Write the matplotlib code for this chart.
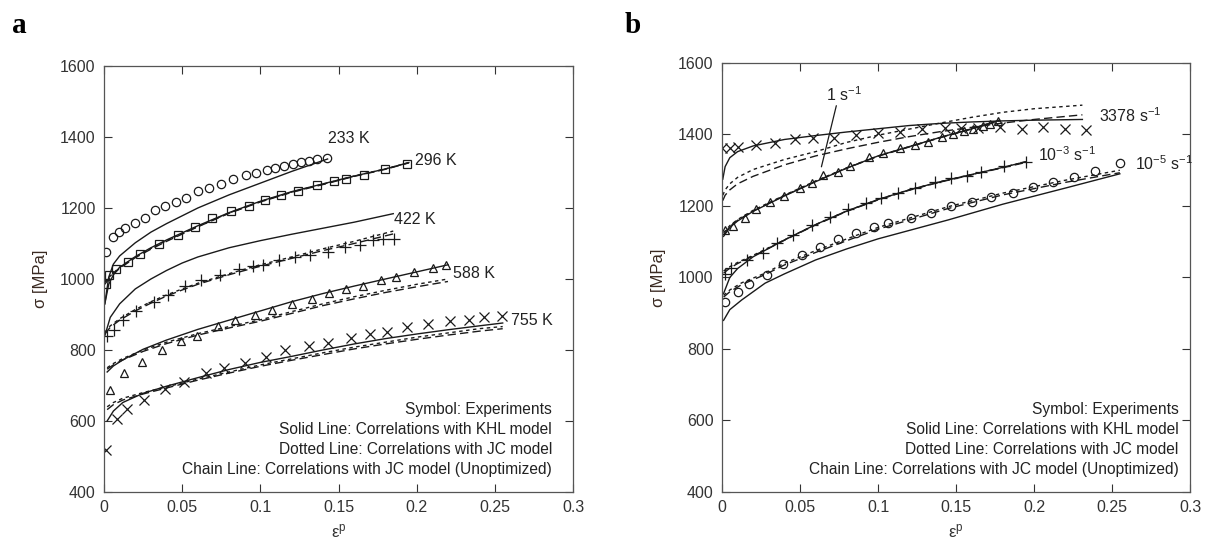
import matplotlib.pyplot as plt
import numpy as np

plt.rcParams['font.family'] = ['Liberation Sans', 'DejaVu Sans']
plt.rcParams['mathtext.default'] = 'regular'

# ---- (a) temperature series : experiments + model fits ----
exp233_e = [0.001, 0.006, 0.0095, 0.0137, 0.0199, 0.0264, 0.0328, 0.0393, 0.0458, 0.0527, 0.0602, 0.0674,
            0.0746, 0.0828, 0.0908, 0.0973, 0.104, 0.1095, 0.115, 0.121, 0.126, 0.131, 0.136, 0.1425]
exp233_s = [1077, 1119, 1131, 1145, 1159, 1173, 1193, 1205, 1216, 1229, 1249, 1257,
            1268, 1283, 1292, 1299, 1306, 1313, 1319, 1324, 1329, 1333, 1339, 1341]
mod233_e = [0.0005, 0.003, 0.006, 0.01, 0.02, 0.03, 0.04, 0.06, 0.08, 0.1, 0.12, 0.143]
khl233 = [930, 1005, 1042, 1065, 1102, 1132, 1156, 1200, 1237, 1270, 1303, 1338]

exp296_e = [0.0015, 0.003, 0.0075, 0.0154, 0.023, 0.035, 0.047, 0.058, 0.069, 0.081, 0.0925, 0.103,
            0.113, 0.124, 0.136, 0.147, 0.155, 0.166, 0.18, 0.194]
exp296_s = [986, 1012, 1028, 1049, 1070, 1098, 1124, 1147, 1173, 1191, 1207, 1223,
            1236, 1249, 1264, 1275, 1283, 1294, 1311, 1324]
mod296_e = [0.0005, 0.003, 0.006, 0.01, 0.02, 0.03, 0.04, 0.06, 0.08, 0.1, 0.12, 0.14, 0.16, 0.18, 0.195]
khl296 = [930, 985, 1012, 1033, 1063, 1088, 1110, 1150, 1187, 1219, 1246, 1268, 1290, 1310, 1328]
jc296 = [990, 1004, 1017, 1033, 1062, 1086, 1108, 1148, 1186, 1218, 1245, 1267, 1290, 1310, 1328]
jcu296 = [985, 1000, 1014, 1030, 1060, 1084, 1106, 1147, 1185, 1217, 1244, 1266, 1289, 1309, 1327]

exp422_e = [0.002, 0.0065, 0.012, 0.0206, 0.032, 0.041, 0.052, 0.062, 0.074, 0.0866, 0.0955, 0.1015,
            0.112, 0.122, 0.132, 0.143, 0.154, 0.164, 0.172, 0.1786, 0.1856]
exp422_s = [839, 857, 885, 911, 935, 956, 979, 997, 1012, 1028, 1037, 1039,
            1053, 1063, 1068, 1077, 1089, 1096, 1110, 1112, 1114]
mod422_e = [0.0005, 0.004, 0.01, 0.02, 0.03, 0.04, 0.05, 0.06, 0.08, 0.1, 0.12, 0.14, 0.16, 0.185]
khl422 = [840, 892, 930, 972, 1000, 1024, 1045, 1062, 1088, 1108, 1126, 1143, 1160, 1184]
jc422 = [850, 868, 888, 914, 936, 955, 972, 988, 1015, 1040, 1062, 1085, 1106, 1135]
jcu422 = [845, 864, 884, 910, 932, 952, 969, 985, 1012, 1036, 1058, 1080, 1100, 1127]

exp588_e = [0.004, 0.0127, 0.0244, 0.0368, 0.0493, 0.0597, 0.0729, 0.084, 0.0965, 0.1077, 0.12, 0.133,
            0.144, 0.1545, 0.1654, 0.1769, 0.1868, 0.1985, 0.2104, 0.219]
exp588_s = [687, 734, 767, 799, 825, 840, 867, 885, 899, 913, 930, 944,
            960, 972, 981, 997, 1007, 1020, 1031, 1039]
mod588_e = [0.002, 0.006, 0.012, 0.025, 0.04, 0.06, 0.08, 0.1, 0.12, 0.14, 0.16, 0.18, 0.2, 0.22]
khl588 = [738, 755, 772, 802, 828, 858, 884, 910, 936, 959, 980, 1000, 1020, 1040]
jc588 = [750, 762, 776, 800, 822, 846, 866, 885, 908, 930, 950, 968, 985, 1000]
jcu588 = [746, 758, 772, 796, 818, 842, 862, 881, 903, 925, 944, 962, 978, 993]

exp755_e = [0.001, 0.0082, 0.015, 0.0256, 0.0393, 0.0512, 0.065, 0.0766, 0.09, 0.1035, 0.1159, 0.131,
            0.143, 0.158, 0.17, 0.181, 0.194, 0.207, 0.2214, 0.2333, 0.2433, 0.2545]
exp755_s = [519, 605, 633, 659, 689, 711, 734, 750, 764, 781, 799, 811,
            820, 835, 846, 851, 865, 874, 881, 885, 893, 896]
mod755_e = [0.002, 0.006, 0.012, 0.025, 0.04, 0.06, 0.08, 0.1, 0.12, 0.14, 0.16, 0.18, 0.2, 0.22, 0.24, 0.255]
khl755 = [600, 628, 652, 678, 698, 722, 745, 765, 782, 800, 817, 832, 845, 857, 868, 876]
jc755 = [640, 652, 664, 680, 696, 718, 738, 758, 775, 792, 808, 822, 836, 848, 860, 866]
jcu755 = [632, 646, 659, 676, 693, 715, 735, 754, 771, 787, 803, 817, 830, 842, 853, 860]

# ---- (b) strain-rate series ----
exp3378_e = [0.0, 0.005, 0.0105, 0.022, 0.034, 0.047, 0.0585, 0.072, 0.086, 0.1, 0.114, 0.128,
             0.143, 0.153, 0.164, 0.178, 0.192, 0.206, 0.22, 0.233]
exp3378_s = [1361, 1363, 1366, 1371, 1377, 1387, 1389, 1389, 1399, 1403, 1408, 1414,
             1417, 1418, 1417, 1420, 1414, 1420, 1414, 1413]
mod3378_e = [0.0005, 0.002, 0.005, 0.01, 0.02, 0.04, 0.06, 0.08, 0.1, 0.12, 0.14, 0.16, 0.18, 0.2, 0.231]
khl3378 = [1275, 1310, 1335, 1352, 1368, 1386, 1397, 1407, 1416, 1425, 1431, 1435, 1438, 1440, 1442]
jc3378 = [1230, 1245, 1262, 1280, 1302, 1330, 1352, 1378, 1398, 1415, 1432, 1448, 1462, 1472, 1482]
jcu3378 = [1215, 1230, 1245, 1262, 1283, 1315, 1340, 1360, 1378, 1394, 1408, 1420, 1432, 1442, 1455]

exp1_e = [0.002, 0.0072, 0.0147, 0.022, 0.031, 0.04, 0.05, 0.0575, 0.065, 0.0746, 0.082, 0.094,
          0.1034, 0.114, 0.124, 0.132, 0.141, 0.148, 0.155, 0.161, 0.167, 0.172, 0.177]
exp1_s = [1133, 1144, 1166, 1191, 1212, 1228, 1249, 1265, 1287, 1296, 1312, 1336,
          1347, 1361, 1371, 1380, 1394, 1402, 1410, 1416, 1424, 1430, 1437]
mod1_e = [0.001, 0.005, 0.01, 0.02, 0.04, 0.06, 0.08, 0.1, 0.12, 0.14, 0.16, 0.178]
khl1 = [1115, 1140, 1158, 1185, 1228, 1268, 1306, 1340, 1366, 1392, 1416, 1440]
jc1 = [1125, 1145, 1162, 1188, 1230, 1270, 1307, 1340, 1366, 1392, 1416, 1440]
jcu1 = [1120, 1142, 1160, 1186, 1229, 1269, 1306, 1339, 1365, 1391, 1415, 1438]

expm3_e = [0.002, 0.006, 0.0158, 0.0265, 0.035, 0.0457, 0.0575, 0.069, 0.081, 0.092, 0.102, 0.113,
           0.124, 0.1365, 0.147, 0.157, 0.166, 0.181, 0.195]
expm3_s = [1010, 1026, 1049, 1069, 1096, 1119, 1147, 1170, 1191, 1208, 1222, 1237,
           1250, 1268, 1277, 1284, 1296, 1312, 1324]
modm3_e = [0.001, 0.005, 0.01, 0.02, 0.04, 0.06, 0.08, 0.1, 0.12, 0.14, 0.16, 0.18, 0.195]
khlm3 = [955, 1000, 1025, 1058, 1105, 1148, 1186, 1218, 1245, 1268, 1288, 1308, 1324]
jcm3 = [1018, 1030, 1042, 1062, 1105, 1148, 1186, 1218, 1245, 1268, 1288, 1308, 1324]
jcum3 = [1012, 1026, 1039, 1060, 1104, 1147, 1185, 1217, 1244, 1267, 1287, 1307, 1322]

expm5_e = [0.002, 0.01, 0.017, 0.0286, 0.039, 0.051, 0.063, 0.0746, 0.086, 0.0977, 0.1066, 0.121,
           0.134, 0.147, 0.16, 0.1724, 0.1868, 0.1996, 0.212, 0.2256, 0.239, 0.255]
expm5_s = [930, 960, 982, 1007, 1038, 1063, 1086, 1107, 1125, 1140, 1153, 1167,
           1180, 1200, 1210, 1226, 1237, 1252, 1268, 1282, 1299, 1319]
modm5_e = [0.001, 0.005, 0.0126, 0.0276, 0.04, 0.06, 0.08, 0.1, 0.145, 0.18, 0.22, 0.255]
khlm5 = [880, 910, 937, 984, 1010, 1049, 1080, 1108, 1161, 1205, 1250, 1290]
jcm5 = [950, 965, 985, 1012, 1040, 1075, 1108, 1140, 1198, 1236, 1272, 1300]
jcum5 = [945, 960, 980, 1008, 1035, 1070, 1103, 1135, 1193, 1231, 1266, 1293]

legend_lines = ["Symbol: Experiments",
                "Solid Line: Correlations with KHL model",
                "Dotted Line: Correlations with JC model",
                "Chain Line: Correlations with JC model (Unoptimized)"]

INK = '#1a1a1a'
DOT = (0, (2.5, 2.5))
CHAIN = (0, (6, 3))


def expts(ax, e, s, m, ms=6):
    ax.plot(e, s, linestyle='none', marker=m, ms=ms, mfc='none', mec=INK, mew=0.9)


def fits(ax, e, khl=None, jc=None, jcu=None):
    if khl is not None:
        ax.plot(e, khl, color=INK, lw=1.0)
    if jc is not None:
        ax.plot(e, jc, color=INK, lw=1.0, ls=DOT)
    if jcu is not None:
        ax.plot(e, jcu, color=INK, lw=1.0, ls=CHAIN)


def frame(ax):
    ax.set_xlim(0, 0.3)
    ax.set_ylim(400, 1600)
    ax.set_xticks([0, 0.05, 0.1, 0.15, 0.2, 0.25, 0.3])
    ax.set_xticklabels(['0', '0.05', '0.1', '0.15', '0.2', '0.25', '0.3'])
    ax.set_yticks(np.arange(400, 1601, 200))
    ax.tick_params(direction='in', top=True, right=True, length=6, width=0.8,
                   labelsize=11.5, colors='#333333', pad=6)
    for sp in ax.spines.values():
        sp.set_color('#555555')
        sp.set_linewidth(0.9)
    ax.set_xlabel(r'$\varepsilon^{p}$', fontsize=12, color='#333333', labelpad=5)
    ax.set_ylabel('σ [MPa]', fontsize=12, color='#3a2a22', labelpad=9)


fig = plt.figure(figsize=(12.11, 5.5), dpi=100)
axa = fig.add_axes([0.0859, 0.1055, 0.3873, 0.7745])
axb = fig.add_axes([0.5962, 0.1055, 0.3865, 0.7800])

# panel a
fits(axa, mod233_e, khl233)
fits(axa, mod296_e, khl296, jc296, jcu296)
fits(axa, mod422_e, khl422, jc422, jcu422)
fits(axa, mod588_e, khl588, jc588, jcu588)
fits(axa, mod755_e, khl755, jc755, jcu755)
expts(axa, exp233_e, exp233_s, 'o')
expts(axa, exp296_e, exp296_s, 's')
expts(axa, exp422_e, exp422_s, '+', ms=8)
expts(axa, exp588_e, exp588_s, '^')
expts(axa, exp755_e, exp755_s, 'x', ms=7)
for txt, xx, yy in [('233 K', 0.1435, 1396), ('296 K', 0.199, 1335), ('422 K', 0.1855, 1168),
                    ('588 K', 0.2235, 1016), ('755 K', 0.2605, 882)]:
    axa.text(xx, yy, txt, fontsize=11.5, color='#222222', va='center', ha='left')
frame(axa)

# panel b
fits(axb, mod3378_e, khl3378, jc3378, jcu3378)
fits(axb, mod1_e, khl1, jc1, jcu1)
fits(axb, modm3_e, khlm3, jcm3, jcum3)
fits(axb, modm5_e, khlm5, jcm5, jcum5)
expts(axb, exp3378_e, exp3378_s, 'x', ms=7)
expts(axb, exp1_e, exp1_s, '^', ms=5.5)
expts(axb, expm3_e, expm3_s, '+', ms=8)
expts(axb, expm5_e, expm5_s, 'o')
axb.annotate('', xy=(0.0633, 1302), xytext=(0.0737, 1488),
             arrowprops=dict(arrowstyle='-', color=INK, lw=0.9))
axb.text(0.0665, 1510, r'1 s$^{-1}$', fontsize=11.5, color='#222222', va='center', ha='left')
axb.text(0.2415, 1452, r'3378 s$^{-1}$', fontsize=11.5, color='#222222', va='center', ha='left')
axb.text(0.2025, 1343, r'10$^{-3}$ s$^{-1}$', fontsize=11.5, color='#222222', va='center', ha='left')
axb.text(0.2645, 1318, r'10$^{-5}$ s$^{-1}$', fontsize=11.5, color='#222222', va='center', ha='left')
frame(axb)

for ax, xr in [(axa, 0.955), (axb, 0.975)]:
    for i, line in enumerate(legend_lines):
        ax.text(xr, 0.193 - i * 0.047, line, transform=ax.transAxes, fontsize=11.2,
                color='#222222', ha='right', va='center')

fig.text(0.010, 0.94, 'a', family='Liberation Serif', fontweight='bold', fontsize=21, va='baseline')
fig.text(0.516, 0.94, 'b', family='Liberation Serif', fontweight='bold', fontsize=21, va='baseline')

fig.savefig('out.png', dpi=100)
